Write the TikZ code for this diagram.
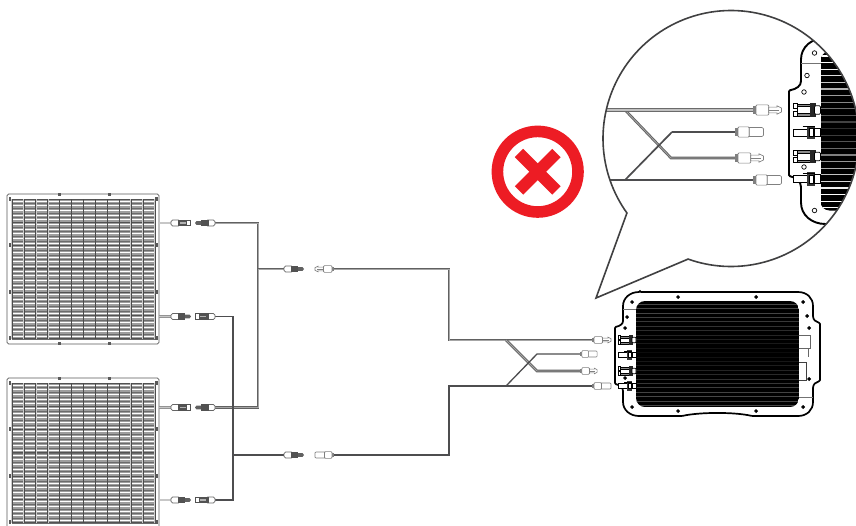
\documentclass[tikz,border=0pt]{standalone}
\definecolor{darkwire}{HTML}{4D4D4F}
\definecolor{bubbleline}{HTML}{404041}
\definecolor{xred}{HTML}{ED1C24}
\definecolor{lightedge}{HTML}{808080}
\definecolor{wirecore}{HTML}{A6A6A6}
\tikzset{
  x=1pt,y=-1pt,
  wiregray/.style={draw=black!62,line width=.9pt,double=wirecore,double distance=.8pt,line join=miter},
  widegray/.style={draw=black!58,line width=.9pt,double=wirecore!70!white,double distance=1.4pt,line join=miter},
  wiredark/.style={draw=darkwire,line width=1.9pt,line join=miter},
  stub/.style={draw=black!42,line width=.6pt,double=black!22,double distance=1.6pt},
  lightmale/.pic={
    \fill[black!50] (0,-2.4) rectangle (2.2,2.4);
    \draw[lightedge,fill=white,line width=.6pt,rounded corners=1pt] (2,-3.4) rectangle (10.5,3.4);
    \draw[lightedge,fill=white,line width=.6pt] (10.5,-1.9) -- (16,-1.9) -- (16,-2.8) -- (19,-1.3) -- (19,1.3) -- (16,2.8) -- (16,1.9) -- (10.5,1.9) -- cycle;
    \draw[lightedge,line width=.4pt] (10.5,0) -- (17,0);
  },
  lightfemale/.pic={
    \fill[black!50] (0,-2.4) rectangle (2.2,2.4);
    \draw[lightedge,fill=white,line width=.6pt,rounded corners=1pt] (2,-3.4) rectangle (9.5,3.4);
    \draw[lightedge,fill=white,line width=.6pt] (9.5,-3) -- (18,-3) -- (19,-2.2) -- (19,2.2) -- (18,3) -- (9.5,3) -- cycle;
  },
  darksocket/.pic={
    \draw[black!60,fill=white,line width=.6pt,rounded corners=1.6pt] (0,-3) rectangle (9,3);
    \fill[black!68] (6.5,-3.4) rectangle (16,3.4);
    \fill[white!70!black] (9,-.6) rectangle (15,.6);
    \draw[black!68,line width=.8pt] (15,-2.8) -- (20,-2.8) (15,2.8) -- (20,2.8) (19.6,-3.2) -- (19.6,3.2);
  },
  darkplug/.pic={
    \draw[black!60,fill=white,line width=.6pt,rounded corners=1.6pt] (0,-3) rectangle (9,3);
    \fill[black!68] (6.5,-3.4) rectangle (14,3.4);
    \fill[black!62] (14,-1.9) -- (18.5,-1.9) -- (20,0) -- (18.5,1.9) -- (14,1.9) -- cycle;
  },
  plugA/.pic={
    \draw[black,fill=white,line width=.8pt] (0,-4.2) rectangle (2.6,-.8);
    \draw[black,fill=white,line width=.8pt] (0,.8) rectangle (2.6,4.2);
    \draw[black,fill=white,line width=.8pt] (2.6,-2.6) rectangle (11,2.6);
    \draw[black,fill=black!45,line width=.5pt] (2.6,-4) rectangle (12,-2.2);
    \draw[black,fill=black!45,line width=.5pt] (2.6,2.2) rectangle (12,4);
    \fill[black!85] (11,-4.6) rectangle (15,4.6);
    \draw[black,fill=white,line width=.7pt,rounded corners=1pt] (14,-2.8) rectangle (18,2.8);
  },
  plugB/.pic={
    \draw[black,fill=white,line width=.7pt] (0,-2.4) rectangle (10,2.4);
    \fill[black!78] (9,-4.6) rectangle (14,4.6);
    \draw[black,fill=white,line width=.6pt] (10.5,-2.6) rectangle (13.5,2.6);
    \draw[black,fill=white,line width=.7pt] (14,-2.8) rectangle (18,2.8);
    \draw[black,line width=.7pt] (6,-3.8) -- (14,-3.8);
  },
  solarpanel/.pic={
    \draw[black!65,fill=white,line width=.8pt,rounded corners=1.6pt] (0,0) rectangle (152,150);
    \fill[black!38] (5,5) rectangle (148,145);
    \foreach \k in {0,...,29}{
      \pgfmathsetmacro\yy{5+4.667*\k+2.3}
      \draw[white,line width=1pt] (5,\yy) -- (148,\yy);
      \draw[black!58,line width=.5pt] (5,\yy+2.2) -- (148,\yy+2.2);
    }
    \foreach \k in {0,...,6}{
      \pgfmathsetmacro\yy{5+23.33*\k}
      \draw[black!68,line width=1pt] (5,\yy) -- (148,\yy);
    }
    \foreach \k in {0,...,12}{
      \pgfmathsetmacro\xx{5+11.92*\k}
      \draw[white!80!black,line width=1.5pt] (\xx,5) -- (\xx,145);
      \draw[black!70,line width=.7pt] (\xx,5) -- (\xx,145);
    }
    \foreach \xx in {51,101}{
      \fill[black!65] (\xx,-1.2) rectangle (\xx+3.4,2);
      \fill[black!65] (\xx,148) rectangle (\xx+3.4,151.2);
    }
    \foreach \yy in {5,51,98,144}{
      \fill[black!65] (1.6,\yy-2) rectangle (4,\yy+2);
      \fill[black!65] (148.2,\yy-2) rectangle (151.2,\yy+2);
    }
  }
}
% the inverter, drawn in the coordinates of its lower, full-size view
\newcommand\invbody[5]{%
  \draw[black,fill=white,line width=#4,rounded corners=1pt]
    (640,292) -- (797,292) .. controls (807,292) and (813,298) .. (813,307) -- (813,315)
    .. controls (813,320) and (816,322) .. (820,323) -- (820,381)
    .. controls (816,382) and (813,384) .. (813,389) -- (813,401)
    .. controls (813,410) and (807,416) .. (797,416) -- (752,416)
    .. controls (735,412) and (700,412) .. (682,416) -- (640,416)
    .. controls (630,416) and (623,410) .. (623,401) -- (623,392)
    .. controls (623,388) and (620,385) .. (615,384) -- (615,327)
    .. controls (620,326) and (623,324) .. (623,320) -- (623,307)
    .. controls (623,298) and (630,292) .. (640,292) -- cycle;
  \draw[black!55,line width=.6pt] (623,309) -- (636,309) (799,397) -- (813,397);
  \begin{scope}
    \clip[rounded corners=#5] (636,301) rectangle (799,407);
    \fill[black] (636,301) rectangle (799,407);
    \foreach \yy in {304,308.4,...,406}{
      \pgfmathsetmacro\op{#3*(0.16+0.84*min(1,abs(\yy-353)/42))}
      \draw[white,line width=#2,opacity=\op] (636,\yy) -- (799,\yy);
    }
  \end{scope}
  \foreach \xx/\yy in {678/297,756/297,632/302,803/302,627/317,807/316,625/328,809/328,
                       809/379,625/378,632/407,803/407,678/411,756/411}{
    \draw[black,fill=#1,line width=.7pt] (\xx,\yy) circle[radius=1.5];
  }
  \draw[black!60,line width=.7pt] (799,335) -- (810,335) -- (810,348) -- (799,348);
  \draw[black!60,line width=.7pt] (808,348) -- (808,357);
  \draw[black!75,line width=.8pt] (799,362) -- (806,362) -- (806,380) -- (799,380);
  \pic[transform shape] at (618,340) {plugA};
  \pic[transform shape] at (618,355) {plugB};
  \pic[transform shape] at (618,371) {plugA};
  \pic[transform shape] at (618,386) {plugB};
}
\begin{document}
\begin{tikzpicture}
\useasboundingbox (0,0) rectangle (856,525);
\fill[white] (0,0) rectangle (856,525);
\clip (0,0) rectangle (856,525);

% solar panels
\coordinate (panelA) at (7,194);
\coordinate (panelB) at (7,378);
\pic at (panelA) {solarpanel};
\pic at (panelB) {solarpanel};

% connector anchors
\coordinate (a1out) at (159,223);   \coordinate (a1) at (171,223);   \coordinate (a2) at (215,223);
\coordinate (b1out) at (159,316.5); \coordinate (b1) at (171,316.5); \coordinate (b2) at (215,316.5);
\coordinate (c1out) at (159,407.5); \coordinate (c1) at (171,407.5); \coordinate (c2) at (215,407.5);
\coordinate (d1out) at (159,500);   \coordinate (d1) at (171,500);   \coordinate (d2) at (215,500);
\coordinate (g1) at (258,223); \coordinate (g2) at (258,269); \coordinate (g3) at (258,407.5);
\coordinate (m1) at (284,269); \coordinate (m2) at (334,269);
\coordinate (k1) at (233,316.5); \coordinate (k2) at (233,455); \coordinate (k3) at (233,500);
\coordinate (n1) at (284,455); \coordinate (n2) at (334,455);
\coordinate (r1) at (449,269); \coordinate (r2) at (449,340); \coordinate (r3) at (506,340);
\coordinate (r4) at (537,371); \coordinate (t1) at (592,340); \coordinate (t3) at (580,371);
\coordinate (s1) at (449,455); \coordinate (s2) at (449,386); \coordinate (s3) at (506,386);
\coordinate (s4) at (537,354); \coordinate (t2) at (580,354); \coordinate (t4) at (592,386);

% stubs from the panels
\foreach \p/\q in {a1out/a1,b1out/b1,c1out/c1,d1out/d1}{\draw[stub] (\p) -- (\q);}

% gray run
\draw[wiregray] (a2) -- (g1) -- (g3) -- (c2);
\draw[wiregray] (g2) -- (m1);
\draw[wiregray] (m2) -- (r1) -- (r2) -- (t1);
\draw[wiregray] (r3) -- (r4) -- (t3);
% dark run
\draw[wiredark] (b2) -- (k1) -- (k3) -- (d2);
\draw[wiredark] (k2) -- (n1);
\draw[wiredark] (n2) -- (s1) -- (s2) -- (t4);
\draw[wiredark,line width=1.3pt] (s3) -- (s4) -- (t2);

% connectors of the panels
\pic at (a1) {darksocket};
\pic[xscale=-1] at (a2) {darkplug};
\pic at (b1) {darkplug};
\pic[xscale=-1] at (b2) {darksocket};
\pic at (c1) {darksocket};
\pic[xscale=-1] at (c2) {darkplug};
\pic at (d1) {darkplug};
\pic[xscale=-1] at (d2) {darksocket};
\pic at (m1) {darkplug};
\pic[xscale=-1] at (m2) {lightmale};
\pic at (n1) {darkplug};
\pic[xscale=-1] at (n2) {lightfemale};
% free connectors next to the inverter
\pic at (t1) {lightmale};
\pic[xscale=.9] at (t2) {lightfemale};
\pic[xscale=.9] at (t3) {lightmale};
\pic at (t4) {lightfemale};

% inverter
\invbody{black}{.3pt}{.28}{1.7pt}{9pt}

% speech bubble
\coordinate (tail) at (596,298);
\path[fill=white] plot[domain=144.4:469.6,samples=160] ({731+128*cos(\x)},{138.5+128*sin(\x)}) -- (tail) -- cycle;
\begin{scope}
  \clip (731,138.5) circle[radius=128];
  \begin{scope}[shift={(789,110)},scale=1.5,shift={(-615,-340)}]
    \invbody{white}{1.05pt}{1}{1.9pt}{9pt}
  \end{scope}
\end{scope}
\coordinate (u1) at (606,110); \coordinate (u2) at (753,110);
\coordinate (u3) at (625,110); \coordinate (u4) at (671,158); \coordinate (u5) at (735,158);
\coordinate (v1) at (610,180); \coordinate (v2) at (753,180);
\coordinate (v3) at (625,180); \coordinate (v4) at (672,132); \coordinate (v5) at (735,132);
\draw[wiregray] (u3) -- (u4) -- (u5);
\draw[widegray] (u1) -- (u2);
\draw[wiredark,line width=2.8pt] (v1) -- (v2);
\draw[wiredark,line width=1.7pt] (v3) -- (v4);
\draw[wiredark,line width=2.6pt] (v4) -- (v5);
\pic[scale=1.5] at (u2) {lightmale};
\pic[scale=1.5] at (v5) {lightfemale};
\pic[scale=1.5] at (u5) {lightmale};
\pic[scale=1.5] at (v2) {lightfemale};
\draw[bubbleline,line width=1.6pt,line join=miter]
  plot[domain=144.4:469.6,samples=160] ({731+128*cos(\x)},{138.5+128*sin(\x)}) -- (tail) -- cycle;

% red cross sign
\coordinate (sign) at (537.7,171.7);
\draw[xred,line width=11.6pt] (sign) circle[radius=40.3];
\fill[xred,rotate around={45:(sign)}] ([shift={(-26.5,-5.9)}]sign) rectangle ([shift={(26.5,5.9)}]sign);
\fill[xred,rotate around={45:(sign)}] ([shift={(-5.9,-26.5)}]sign) rectangle ([shift={(5.9,26.5)}]sign);
\end{tikzpicture}
\end{document}
